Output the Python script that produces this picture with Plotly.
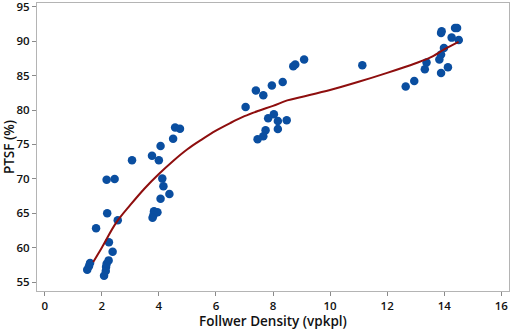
import plotly.graph_objects as go

# Scatter data: follower density (vpkpl) vs PTSF (%)
density = [1.49, 1.55, 1.59, 2.08, 2.14, 2.15, 2.17, 2.24, 2.25, 2.38, 1.80, 2.56, 2.19,
           3.83, 3.95, 3.81, 3.78, 4.06, 4.37, 4.16, 4.12, 2.17, 2.45, 3.06, 4.00, 3.76,
           4.06, 4.50, 4.57, 4.74,
           7.04, 7.40, 7.66, 7.96, 8.34, 8.71, 8.78, 9.09, 11.13, 8.03, 7.83, 8.17, 8.48,
           8.17, 7.74, 7.66, 7.46,
           13.91, 13.89, 14.38, 14.45, 14.26, 14.51, 13.99, 13.89, 13.83, 13.38, 13.32,
           14.13, 13.89, 12.95, 12.65]
ptsf = [56.80, 57.28, 57.76, 55.93, 56.60, 57.18, 57.67, 58.15, 60.77, 59.42, 62.81, 63.97, 64.99,
        65.28, 65.13, 64.69, 64.36, 67.12, 67.79, 68.91, 70.03, 69.88, 69.97, 72.69, 72.69, 73.37,
        74.77, 75.84, 77.47, 77.28,
        80.44, 82.82, 82.14, 83.55, 84.07, 86.35, 86.60, 87.33, 86.50, 79.37, 78.79, 78.40, 78.50,
        77.24, 77.05, 76.18, 75.74,
        91.44, 91.19, 91.92, 91.92, 90.52, 90.17, 89.01, 88.05, 87.33, 86.89, 85.92,
        86.21, 85.38, 84.22, 83.40]

# Smoothed fit line
fit_x = [1.7, 2.0, 2.5, 3.0, 3.5, 4.0, 4.5, 5.0, 5.5, 6.0, 6.5, 7.0, 7.5, 8.0, 8.5,
         9.0, 10.0, 11.0, 12.0, 13.0, 13.5, 14.0, 14.5]
fit_y = [57.9, 60.0, 63.6, 66.2, 68.6, 70.7, 72.6, 74.3, 75.7, 77.0, 78.1, 79.1, 79.9, 80.6, 81.4,
         81.9, 82.9, 84.1, 85.4, 86.8, 87.6, 88.8, 89.9]

x_ticks = [0, 2, 4, 6, 8, 10, 12, 14, 16]
y_ticks = [55, 60, 65, 70, 75, 80, 85, 90, 95]

fig = go.Figure()
fig.add_trace(go.Scatter(
    x=density, y=ptsf, mode="markers",
    marker=dict(size=8.5, color="#0A4EA0", line=dict(width=0)),
    showlegend=False,
))
fig.add_trace(go.Scatter(
    x=fit_x, y=fit_y, mode="lines", line=dict(color="#8E0E0E", width=2, shape="spline"),
    showlegend=False,
))

font_family = "Open Sans, Noto Sans, sans-serif"
axis_common = dict(
    showgrid=False, zeroline=False, showline=True, linecolor="#B4B4B4", linewidth=1.3,
    mirror=True, ticks="outside", ticklen=4, tickcolor="#8A8A8A",
    ticklabeloverflow="allow", automargin=False,
    tickfont=dict(family=font_family, size=11.5, color="#111111", weight=600),
)
fig.update_layout(
    width=512, height=330,
    margin=dict(l=37, r=3, t=3, b=39),
    plot_bgcolor="white", paper_bgcolor="white",
    xaxis=dict(range=[-0.27, 16.27], tickvals=x_ticks,
               title=dict(text="Follwer Density (vpkpl)", standoff=7,
                          font=dict(family=font_family, size=13.5, color="#111111", weight=600)),
               **axis_common),
    yaxis=dict(range=[53.7, 95.55], tickvals=y_ticks, ticktext=[str(v) for v in y_ticks],
               title=dict(text="PTSF (%)", standoff=3,
                          font=dict(family=font_family, size=13.5, color="#111111", weight=600)),
               **axis_common),
)
fig.write_html("out.html", config={"displayModeBar": False},
               post_script="document.body.style.margin='0';document.body.style.overflow='hidden';")
